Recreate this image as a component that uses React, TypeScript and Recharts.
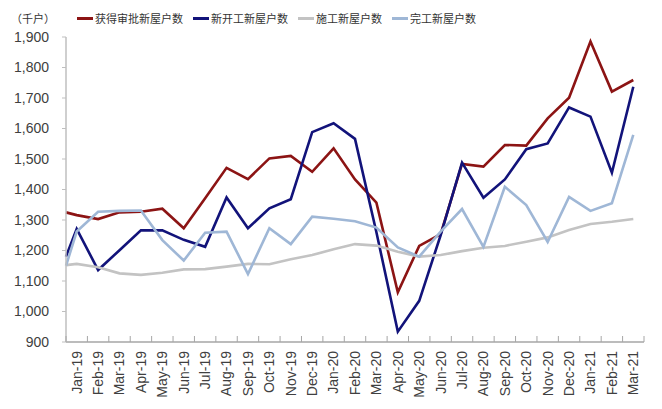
import { LineChart, Line, XAxis, YAxis } from 'recharts';

// monthly categories; the first value of every series sits on the left axis edge
const months = [
  'Jan-19', 'Feb-19', 'Mar-19', 'Apr-19', 'May-19', 'Jun-19', 'Jul-19', 'Aug-19', 'Sep-19',
  'Oct-19', 'Nov-19', 'Dec-19', 'Jan-20', 'Feb-20', 'Mar-20', 'Apr-20', 'May-20', 'Jun-20',
  'Jul-20', 'Aug-20', 'Sep-20', 'Oct-20', 'Nov-20', 'Dec-20', 'Jan-21', 'Feb-21', 'Mar-21',
];

const approved = [
  1325, 1316, 1303, 1325, 1327, 1337, 1273, 1371, 1471, 1434, 1502, 1510, 1458, 1535,
  1433, 1357, 1063, 1215, 1254, 1484, 1475, 1546, 1544, 1633, 1701, 1885, 1721, 1759,
];
const started = [
  1180, 1271, 1136, 1201, 1266, 1266, 1235, 1212, 1374, 1273, 1338, 1368, 1588, 1617,
  1566, 1260, 934, 1035, 1250, 1488, 1373, 1433, 1532, 1551, 1669, 1639, 1455, 1737,
];
const underway = [
  1152, 1156, 1145, 1125, 1120, 1127, 1138, 1139, 1147, 1156, 1155, 1171, 1185, 1204,
  1221, 1216, 1196, 1180, 1185, 1198, 1209, 1215, 1229, 1243, 1267, 1287, 1294, 1303,
];
const completed = [
  1150, 1262, 1327, 1330, 1331, 1234, 1167, 1258, 1262, 1123, 1273, 1221, 1311, 1304,
  1296, 1275, 1210, 1180, 1262, 1336, 1212, 1409, 1349, 1228, 1376, 1330, 1355, 1579,
];

const yTicks = [900, 1000, 1100, 1200, 1300, 1400, 1500, 1600, 1700, 1800, 1900];

const series = [
  { key: 'approved', name: '获得审批新屋户数', color: '#8c1414' },
  { key: 'started', name: '新开工新屋户数', color: '#12137a' },
  { key: 'underway', name: '施工新屋户数', color: '#c3c3c3' },
  { key: 'completed', name: '完工新屋户数', color: '#9fb7d6' },
];

const xPos = [0, ...months.map((_, i) => i + 0.5)];
const data = xPos.map((x, i) => ({
  x,
  approved: approved[i],
  started: started[i],
  underway: underway[i],
  completed: completed[i],
}));

// integer ticks = tick marks between months, half ticks = month labels
const xTicks = Array.from({ length: months.length * 2 + 1 }, (_, k) => k / 2);

const FONT = '"Liberation Sans", Arial, sans-serif';
const CJK = '"Noto Sans CJK SC", sans-serif';

const XTick = ({ x, y, payload }: any) => {
  const v = payload.value;
  if (Number.isInteger(v)) {
    return <line x1={x} x2={x} y1={y} y2={y - 6} stroke="#a6a6a6" strokeWidth={1} />;
  }
  return (
    <text
      transform={`translate(${x},${y + 9}) rotate(-90)`}
      textAnchor="end"
      dy="0.35em"
      fontSize={14}
      fontFamily={FONT}
      fill="#404040"
    >
      {months[Math.floor(v)]}
    </text>
  );
};

const App = () => {
  return (
    <div style={{ position: 'absolute', left: 0, top: 0, width: 662, height: 409, background: '#fff' }}>
      <div style={{ position: 'absolute', left: 11, top: 10, fontSize: 11, fontFamily: CJK, color: '#333', lineHeight: '16px' }}>
        （千户）
      </div>
      <div style={{ position: 'absolute', left: 77, top: 10, display: 'flex', alignItems: 'center', fontFamily: CJK, fontSize: 11, color: '#333', lineHeight: '16px' }}>
        {series.map((s) => (
          <div key={s.key} style={{ display: 'flex', alignItems: 'center', marginRight: 10 }}>
            <span style={{ display: 'inline-block', width: 16, height: 3, background: s.color, marginRight: 2 }} />
            <span>{s.name}</span>
          </div>
        ))}
      </div>
      <LineChart width={662} height={409} data={data} margin={{ top: 37, right: 18, left: 0, bottom: 0 }}>
        <XAxis
          dataKey="x"
          type="number"
          domain={[0, months.length]}
          ticks={xTicks}
          interval={0}
          tick={<XTick />}
          tickLine={false}
          tickSize={0}
          tickMargin={0}
          axisLine={{ stroke: '#a6a6a6', strokeWidth: 1.5 }}
          height={67}
        />
        <YAxis
          type="number"
          domain={[900, 1900]}
          ticks={yTicks}
          interval={0}
          width={66}
          tickFormatter={(v: number) => v.toLocaleString('en-US')}
          tick={{ fontSize: 14, fontFamily: FONT, fill: '#404040' }}
          tickSize={4}
          tickMargin={13}
          tickLine={{ stroke: '#bfbfbf' }}
          axisLine={{ stroke: '#bfbfbf', strokeWidth: 1.5 }}
        />
        {series.map((s) => (
          <Line
            key={s.key}
            type="linear"
            dataKey={s.key}
            name={s.name}
            stroke={s.color}
            strokeWidth={2.6}
            dot={false}
            isAnimationActive={false}
          />
        ))}
      </LineChart>
    </div>
  );
};

export default App;
